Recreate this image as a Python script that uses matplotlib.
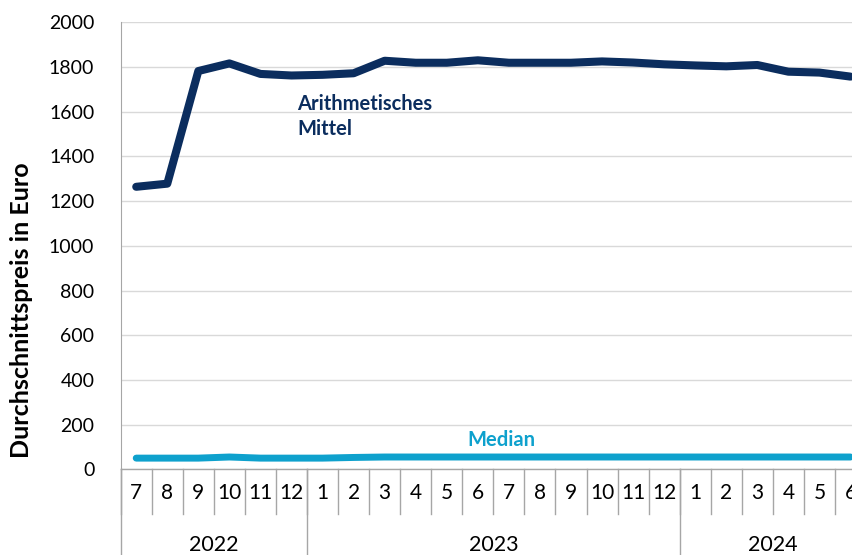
import matplotlib
matplotlib.use("Agg")
import matplotlib.pyplot as plt
import matplotlib.transforms as mtransforms

plt.rcParams['font.family'] = ['Lato', 'DejaVu Sans']

# data (monthly, 7/2022 .. 6/2024)
months = ['7', '8', '9', '10', '11', '12',
          '1', '2', '3', '4', '5', '6', '7', '8', '9', '10', '11', '12',
          '1', '2', '3', '4', '5', '6']
years = ['2022', '2023', '2024']
year_counts = [6, 12, 6]
mittel = [1264, 1278, 1782, 1816, 1769, 1762, 1765, 1772, 1828, 1819, 1819, 1830,
          1819, 1819, 1819, 1825, 1820, 1812, 1807, 1803, 1809, 1779, 1775, 1757]
median = [50, 50, 50, 55, 50, 50, 50, 53, 55, 55, 55, 55,
          55, 55, 55, 55, 55, 55, 55, 55, 55, 55, 55, 55]

navy = '#0b2d5e'
cyan = '#0ea1cd'
grid = '#d9d9d9'
sep = '#a6a6a6'

W, H = 853, 555
fig = plt.figure(figsize=(W / 100, H / 100), dpi=100)
x0, x1 = 120.7, 866.0
y0, y1 = 469.3, 22.3
ax = fig.add_axes([x0 / W, 1 - y0 / H, (x1 - x0) / W, (y0 - y1) / H])

x = list(range(len(months)))
ax.plot(x, mittel, color=navy, lw=5.8, solid_capstyle='round', solid_joinstyle='round', zorder=3)
ax.plot(x, median, color=cyan, lw=5.0, solid_capstyle='round', solid_joinstyle='round', zorder=3)

ax.set_xlim(-0.5, len(months) - 0.5)
ax.set_ylim(0, 2000)
ax.set_yticks(range(0, 2001, 200))
ax.tick_params(axis='y', length=0, labelsize=14, pad=19)
ax.set_xticks([])
ax.grid(axis='y', color=grid, lw=1)
ax.set_axisbelow(True)
for s in ['top', 'right', 'bottom']:
    ax.spines[s].set_visible(False)
ax.spines['left'].set_color(sep)

fig.text(22 / W, 1 - 310 / H, 'Durchschnittspreis in Euro', rotation=90, fontsize=18,
         fontweight='bold', ha='center', va='center')

# category axis with month and year rows
trans = mtransforms.blended_transform_factory(ax.transData, ax.transAxes)
ph = y0 - y1
ax.plot([-0.5, len(months) - 0.5], [0, 0], color=sep, lw=1, transform=trans, clip_on=False)
for i, m in enumerate(months):
    ax.text(i, -24 / ph, m, ha='center', va='center', fontsize=15, transform=trans)
    ax.plot([i - 0.5, i - 0.5], [0, -45 / ph], color=sep, lw=1, transform=trans, clip_on=False)
start = 0
for yr, n in zip(years, year_counts):
    ax.plot([start - 0.5, start - 0.5], [0, -90 / ph], color=sep, lw=1, transform=trans, clip_on=False)
    ax.text(start + n / 2 - 0.5, -76 / ph, yr, ha='center', va='center', fontsize=15.5, transform=trans)
    start += n

ax.text(5.18, 1578, 'Arithmetisches\nMittel', color=navy, fontsize=14.5, fontweight='bold',
        ha='left', va='center', linespacing=1.35)
ax.text(11.75, 131, 'Median', color=cyan, fontsize=14.5, fontweight='bold', ha='center', va='center')

fig.savefig('out.png', dpi=100)
